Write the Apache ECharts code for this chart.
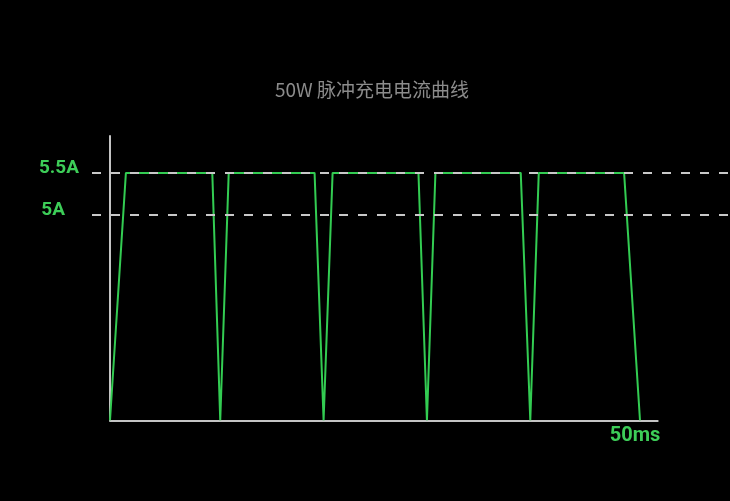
<!DOCTYPE html>
<html>
<head>
<meta charset="utf-8">
<script src="https://cdn.jsdelivr.net/npm/echarts@6/dist/echarts.min.js"></script>
<style>
html,body{margin:0;padding:0;background:#000;}
#chart{width:730px;height:501px;}
</style>
</head>
<body>
<div id="chart"></div>
<script>
// ---- data ----
var titleText = '50W 脉冲充电电流曲线';
var timeMs   = [0, 1.5, 9.65, 10.4, 11.2, 19.3, 20.15, 21.0, 29.1, 29.9, 30.7, 38.75, 39.65, 40.45, 48.5, 50];
var currentA = [2.55, 5.5, 5.5, 2.55, 5.5, 5.5, 2.55, 5.5, 5.5, 2.55, 5.5, 5.5, 2.55, 5.5, 5.5, 2.55];
var refLevels = [5.5, 5];
var refLabels = ['5.5A', '5A'];
var xTickValue = 50;
var xTickLabel = '50ms';

var yMin = 2.55, yMax = 5.94;
var xMin = 0, xMax = 51.67;

var green = '#33cc52';
var labelGreen = '#3dcd58';

var points = timeMs.map(function (t, i) { return [t, currentA[i]]; });
var refDist = [13, 27];
var markData = refLevels.map(function (v, i) {
  return {
    yAxis: v, name: refLabels[i],
    label: { distance: refDist[i] }
  };
});

var chart = echarts.init(document.getElementById('chart'));
chart.setOption({
  backgroundColor: '#000',
  animation: false,
  title: {
    text: titleText,
    left: 270, top: 75,
    textStyle: { color: '#8c8c8c', fontSize: 19, fontWeight: 'normal', fontFamily: 'Noto Sans CJK SC' }
  },
  grid: [
    { left: 110, right: 72.3, top: 136, bottom: 80.7 },
    { left: 92, right: 0, top: 136, bottom: 80.7 }
  ],
  xAxis: [
    {
      type: 'value', gridIndex: 0, min: xMin, max: xMax, interval: xTickValue,
      axisLine: { show: true, lineStyle: { color: '#c4c4c4', width: 2 } },
      axisTick: { show: false },
      splitLine: { show: false },
      axisLabel: {
        showMaxLabel: false, showMinLabel: false, margin: 6,
        color: labelGreen, fontSize: 20, fontWeight: 'bold', fontFamily: 'Roboto',
        padding: [0, 10, 0, 0],
        formatter: function (v) { return v === xTickValue ? xTickLabel : ''; }
      }
    },
    { type: 'value', gridIndex: 1, min: 0, max: 1, show: false }
  ],
  yAxis: [
    {
      type: 'value', gridIndex: 0, min: yMin, max: yMax,
      axisLine: { show: true, lineStyle: { color: '#c4c4c4', width: 2 } },
      axisTick: { show: false },
      splitLine: { show: false },
      axisLabel: { show: false }
    },
    { type: 'value', gridIndex: 1, min: yMin, max: yMax, show: false, splitLine: { show: false } }
  ],
  series: [
    {
      type: 'line', xAxisIndex: 1, yAxisIndex: 1, data: [], z: 1,
      markLine: {
        silent: true, symbol: ['none', 'none'],
        lineStyle: { color: '#c8c8c8', width: 1.8, type: [9, 10] },
        label: {
          position: 'start',
          formatter: function (p) { return '{t|' + p.name + '}\n{s| }'; },
          rich: {
            t: { color: labelGreen, fontSize: 19, fontWeight: 'bold', fontFamily: 'Roboto', lineHeight: 24, align: 'right' },
            s: { fontSize: 1, lineHeight: 9 }
          }
        },
        emphasis: { disabled: true },
        data: markData
      }
    },
    {
      type: 'line', xAxisIndex: 0, yAxisIndex: 0, data: points, z: 3,
      symbol: 'none', clip: false,
      lineStyle: { color: green, width: 2 }
    }
  ]
});
</script>
</body>
</html>
